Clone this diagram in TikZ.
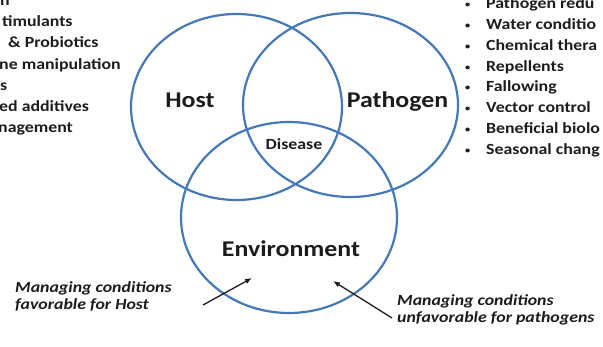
\documentclass[tikz,border=0pt]{standalone}
\usepackage{fontspec}
\setmainfont{Carlito}[FakeStretch=1.15]
\usetikzlibrary{arrows.meta}
\definecolor{ringblue}{RGB}{68,120,182}
\definecolor{inkgray}{RGB}{28,28,28}
\newcommand{\dotmark}{\makebox[21pt][l]{\raisebox{1.5pt}{\fontsize{9}{9}\selectfont\textbullet}}}

\begin{document}
\begin{tikzpicture}[x=1pt,y=-1pt,
  ring/.style={draw=ringblue,line width=2.2pt},
  bigword/.style={anchor=base,inner sep=0pt,text=inkgray,font=\bfseries\fontsize{22.5}{26}\selectfont},
  listitem/.style={anchor=base west,inner sep=0pt,text=inkgray,font=\bfseries\fontsize{15.5}{18}\selectfont},
  note/.style={anchor=base west,inner sep=0pt,align=left,text=inkgray,font=\bfseries\itshape\fontsize{15.5}{17}\selectfont},
  pointer/.style={-{Latex[length=7pt,width=5.5pt]},line width=1.3pt,draw=inkgray}]
\useasboundingbox (0,0) rectangle (603,347);

\draw[ring] (236.5,107) ellipse [x radius=105.5pt, y radius=93pt];
\draw[ring] (350.5,105) ellipse [x radius=107.5pt, y radius=92pt];
\draw[ring] (289,217.5) ellipse [x radius=108pt, y radius=95.5pt];

\node[bigword] (host) at (190,108) {Host};
\node[bigword] (pathogen) at (397.5,108) {Pathogen};
\node[bigword] (environment) at (291,257) {Environment};
\node[bigword,font=\bfseries\fontsize{15.5}{18}\selectfont] (disease) at (294,150) {Disease};

\node[listitem] (h1) at (0,6) {n};
\node[listitem] (h2) at (2,27) {timulants};
\node[listitem] (h3) at (8,48) {\& Probiotics};
\node[listitem] (h4) at (-1,70) {ne manipulation};
\node[listitem] (h5) at (0,91) {s};
\node[listitem] (h6) at (-1,112) {ed additives};
\node[listitem] (h7) at (-2,133) {nagement};

\node[listitem] (p1) at (465,9) {\dotmark Pathogen redu};
\node[listitem] (p2) at (465,30) {\dotmark Water conditio};
\node[listitem] (p3) at (465,51) {\dotmark Chemical thera};
\node[listitem] (p4) at (465,72) {\dotmark Repellents};
\node[listitem] (p5) at (465,92) {\dotmark Fallowing};
\node[listitem] (p6) at (465,113) {\dotmark Vector control};
\node[listitem] (p7) at (465,134) {\dotmark Beneficial biolo};
\node[listitem] (p8) at (465,155) {\dotmark Seasonal chang};

\node[note] (hostnote) at (15,310) {Managing conditions\\favorable for Host};
\node[note] (pathnote) at (397,323) {Managing conditions\\unfavorable for pathogens};

\coordinate (hosttail) at (203,305);
\coordinate (hosttip) at (252,278);
\coordinate (pathtail) at (392,318);
\coordinate (pathtip) at (333,281);
\draw[pointer] (hosttail) -- (hosttip);
\draw[pointer] (pathtail) -- (pathtip);
\end{tikzpicture}
\end{document}
